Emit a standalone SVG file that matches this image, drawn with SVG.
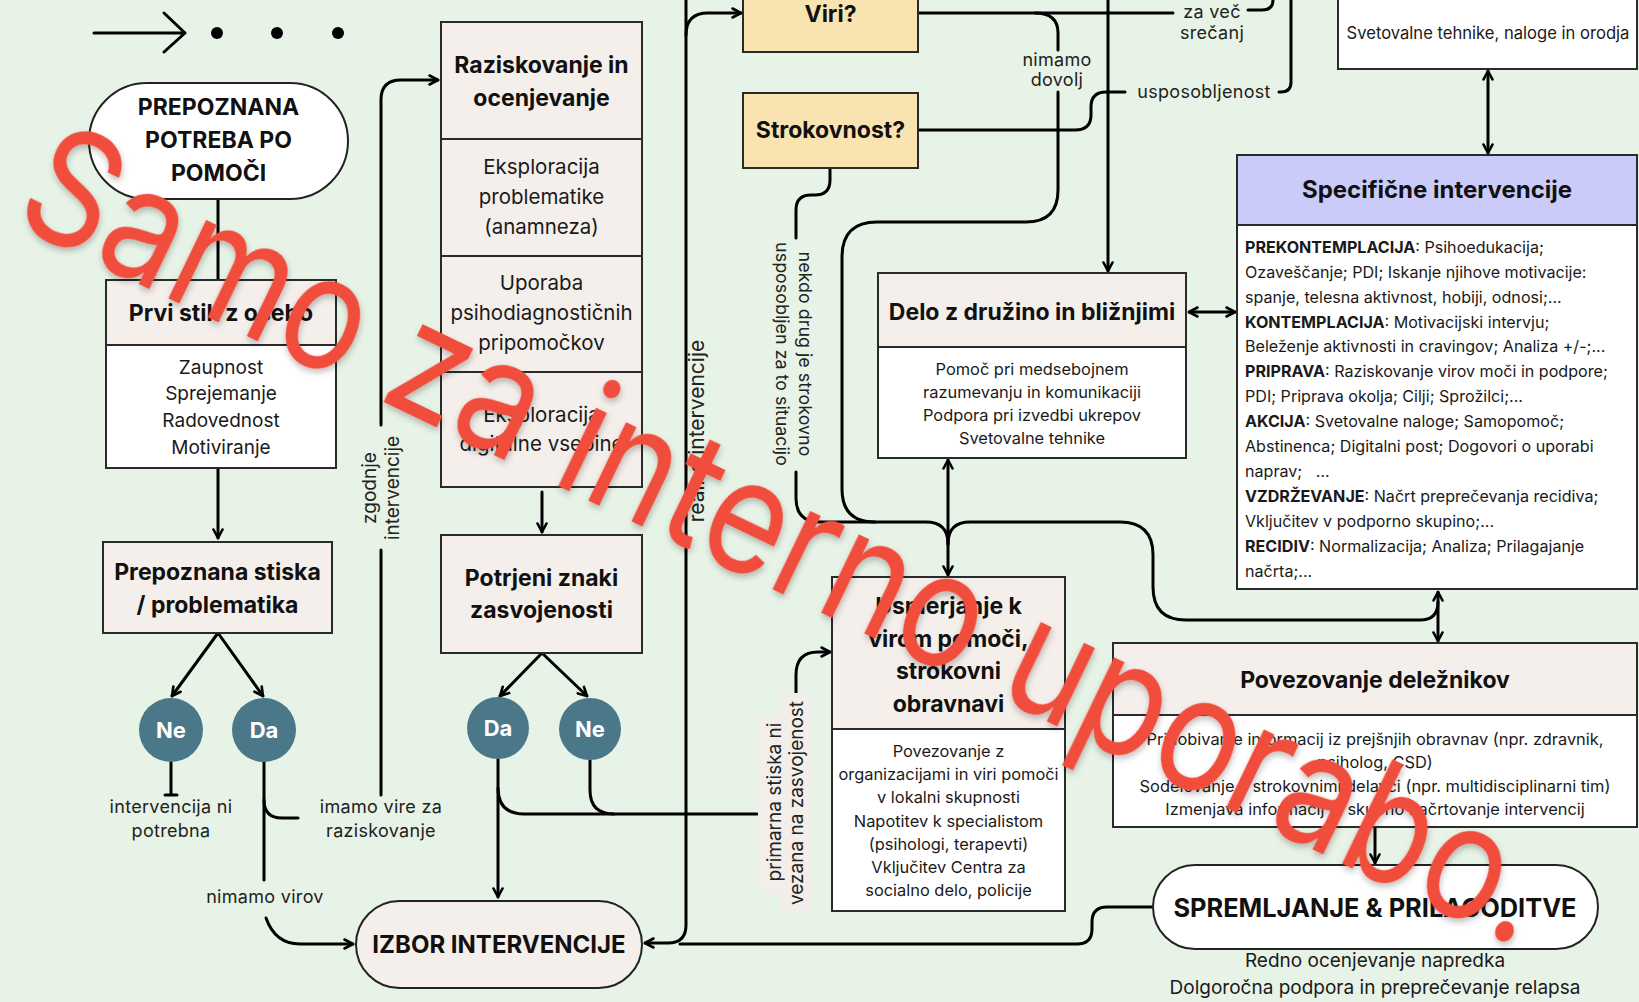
<svg xmlns="http://www.w3.org/2000/svg" width="1639" height="1002" viewBox="0 0 1639 1002">
<style>
.bg{fill:#E8F3E7}
.box{fill:#F4EFEB;stroke:#2a2a2a;stroke-width:2}
.wbox{fill:#FFFFFF;stroke:#2a2a2a;stroke-width:2}
.ybox{fill:#F9E4B1;stroke:#2a2a2a;stroke-width:2}
.pbox{fill:#CBCBFA;stroke:#2a2a2a;stroke-width:2}
.circ{fill:#4B7888}
.hb{font-family:Inter,"Liberation Sans",sans-serif;font-weight:700;font-size:23px;fill:#111;text-anchor:middle}
.ct{font-family:Inter,"Liberation Sans",sans-serif;font-weight:700;font-size:22px;fill:#fff;text-anchor:middle}
.bd{font-family:Inter,"Liberation Sans",sans-serif;font-size:16.4px;fill:#1a1a1a;text-anchor:middle}
.sec{font-family:Inter,"Liberation Sans",sans-serif;font-size:20.5px;fill:#1a1a1a;text-anchor:middle}
.sp{font-family:Inter,"Liberation Sans",sans-serif;font-size:16.1px;fill:#1a1a1a}
.lb{font-family:Inter,"Liberation Sans",sans-serif;font-size:18px;fill:#222;text-anchor:middle;letter-spacing:0.3px}
.rl{font-family:Inter,"Liberation Sans",sans-serif;font-size:19px;fill:#222;text-anchor:middle}
.ln{fill:none;stroke:#000;stroke-width:3;stroke-linecap:round;stroke-linejoin:round}
.a{marker-end:url(#ah)}
.aa{marker-end:url(#ah);marker-start:url(#ah)}
.wm{font-family:Inter,"Open Sans",sans-serif;font-size:160px;fill:#F04D3D}
</style>
<defs>
<marker id="ah" viewBox="0 0 12 12" refX="10.5" refY="6" markerWidth="12" markerHeight="12" markerUnits="userSpaceOnUse" orient="auto-start-reverse">
<path d="M2,1.5 L10.5,6 L2,10.5" fill="none" stroke="#000" stroke-width="2.6" stroke-linecap="round" stroke-linejoin="round"/>
</marker>
<filter id="sh" x="-10%" y="-10%" width="120%" height="120%">
<feDropShadow dx="2" dy="3" stdDeviation="3" flood-color="#000" flood-opacity="0.25"/>
</filter>
</defs>
<rect class="bg" x="0" y="0" width="1639" height="1002"/>

<g id="legend">
<path class="ln" d="M94,33 H185 M164,13 L185,33 L164,52"/>
<circle cx="217" cy="33" r="6"/>
<circle cx="277" cy="33" r="6"/>
<circle cx="338" cy="33" r="6"/>
</g>

<g id="connectors">
<path class="ln" d="M218,199 V280"/>
<path class="ln a" d="M218,468 V538"/>
<path class="ln a" d="M218,633 L172,696"/>
<path class="ln a" d="M218,633 L263,696"/>
<path class="ln" d="M171,762 V795 M165,795 H177"/>
<path class="ln" d="M264,762 V880"/>
<path class="ln" d="M264,800 Q264,818 282,818 H298"/>
<path class="ln" d="M381,795 V550"/>
<path class="ln a" d="M381,425 V100 Q381,80 401,80 H438"/>
<path class="ln a" d="M266,918 C272,935 283,944 300,944 H353"/>
<path class="ln a" d="M542,492 V532"/>
<path class="ln a" d="M542,653 L500,696"/>
<path class="ln a" d="M542,653 L587,696"/>
<path class="ln a" d="M498,758 V897"/>
<path class="ln" d="M498,788 Q498,814 524,814 H757"/>
<path class="ln" d="M590,760 V790 Q590,814 614,814"/>
<path class="ln a" d="M796,693 V675 Q796,652 818,652 H830"/>
<path class="ln a" d="M686,-5 V925 Q686,943 668,943 H645"/>
<path class="ln a" d="M686,35 Q686,13 708,13 H741"/>
<path class="ln" d="M1153,907 H1107 Q1092,907 1092,922 V929 Q1092,944 1077,944 H680"/>
<path class="ln" d="M830,168 V180 Q830,195 815,195 H811 Q796,195 796,210 V238"/>
<path class="ln" d="M796,472 V498 Q796,522 820,522 H926 Q948,522 948,544"/>
<path class="ln" d="M1035,13 Q1058,13 1058,33 V50"/>
<path class="ln" d="M1058,92 V190 Q1058,222 1026,222 H877 Q842,222 842,257 V489 Q842,522 875,522"/>
<path class="ln a" d="M1108,-5 V271"/>
<path class="ln" d="M918,13 H1173"/>
<path class="ln" d="M1248,10 H1262 Q1273,10 1273,0 V-5"/>
<path class="ln" d="M918,130 H1075 Q1091,130 1091,115 V107 Q1091,92 1106,92 H1125"/>
<path class="ln" d="M1279,92 H1281 Q1291,92 1291,82 V-5"/>
<path class="ln aa" d="M1488,71 V153"/>
<path class="ln aa" d="M1189,312 H1235"/>
<path class="ln aa" d="M948,460 V575"/>
<path class="ln" d="M948,544 Q948,522 970,522 H1120 Q1153,522 1153,555 V587 Q1153,620 1186,620 H1420 Q1438,620 1438,602"/>
<path class="ln aa" d="M1438,592 V641"/>
<path class="ln a" d="M1375,827 V863"/>
</g>

<g id="n_start">
<rect x="89" y="83" width="259" height="116" rx="58" fill="#fff" stroke="#222" stroke-width="2"/>
<text class="hb" x="218.5" y="115">PREPOZNANA</text>
<text class="hb" x="218.5" y="148">POTREBA PO</text>
<text class="hb" x="218.5" y="181">POMOČI</text>
</g>

<g id="n_prvi_stik">
<rect class="box" x="106" y="280" width="230" height="65"/>
<rect class="wbox" x="106" y="345" width="230" height="123"/>
<text class="hb" x="221" y="321">Prvi stik z osebo</text>
<text class="sec" style="font-size:19px" x="221" y="374">Zaupnost</text>
<text class="sec" style="font-size:19px" x="221" y="400">Sprejemanje</text>
<text class="sec" style="font-size:19px" x="221" y="427">Radovednost</text>
<text class="sec" style="font-size:19px" x="221" y="454">Motiviranje</text>
</g>

<g id="n_stiska">
<rect class="box" x="103" y="542" width="229" height="91"/>
<text class="hb" x="217.5" y="580">Prepoznana stiska</text>
<text class="hb" x="217.5" y="613">/ problematika</text>
</g>

<g id="n_ne1">
<circle class="circ" cx="171" cy="730" r="32"/>
<text class="ct" x="171" y="738">Ne</text>
</g>
<g id="n_da1">
<circle class="circ" cx="264" cy="730" r="32"/>
<text class="ct" x="264" y="738">Da</text>
</g>

<g id="n_raziskovanje">
<rect class="box" x="441" y="22" width="201" height="117"/>
<rect class="box" x="441" y="139" width="201" height="117"/>
<rect class="box" x="441" y="256" width="201" height="116"/>
<rect class="box" x="441" y="372" width="201" height="115"/>
<text class="hb" x="541.5" y="73">Raziskovanje in</text>
<text class="hb" x="541.5" y="106">ocenjevanje</text>
<text class="sec" x="541.5" y="174">Eksploracija</text>
<text class="sec" x="541.5" y="204">problematike</text>
<text class="sec" x="541.5" y="234">(anamneza)</text>
<text class="sec" x="541.5" y="290">Uporaba</text>
<text class="sec" x="541.5" y="320">psihodiagnostičnih</text>
<text class="sec" x="541.5" y="350">pripomočkov</text>
<text class="sec" x="541.5" y="422">Eksploracija</text>
<text class="sec" x="541.5" y="451">digitalne vsebine</text>
</g>

<g id="n_potrjeni">
<rect class="box" x="441" y="535" width="201" height="118"/>
<text class="hb" x="541.5" y="586">Potrjeni znaki</text>
<text class="hb" x="541.5" y="618">zasvojenosti</text>
</g>

<g id="n_da2">
<circle class="circ" cx="498" cy="728" r="31"/>
<text class="ct" x="498" y="736">Da</text>
</g>
<g id="n_ne2">
<circle class="circ" cx="590" cy="729" r="31"/>
<text class="ct" x="590" y="737">Ne</text>
</g>

<g id="n_izbor">
<rect x="356" y="901" width="286" height="87" rx="43.5" fill="#F4EFEB" stroke="#222" stroke-width="2"/>
<text class="hb" style="font-size:24px" x="499" y="953">IZBOR INTERVENCIJE</text>
</g>

<g id="n_viri">
<rect class="ybox" x="743" y="-5" width="175" height="57"/>
<text class="hb" x="830.5" y="22">Viri?</text>
</g>

<g id="n_strokovnost">
<rect class="ybox" x="743" y="93" width="175" height="75"/>
<text class="hb" x="830.5" y="138">Strokovnost?</text>
</g>

<g id="n_delo">
<rect class="box" x="878" y="273" width="308" height="74"/>
<rect class="wbox" x="878" y="347" width="308" height="111"/>
<text class="hb" x="1032" y="320">Delo z družino in bližnjimi</text>
<text class="bd" x="1032" y="375">Pomoč pri medsebojnem</text>
<text class="bd" x="1032" y="398">razumevanju in komunikaciji</text>
<text class="bd" x="1032" y="421">Podpora pri izvedbi ukrepov</text>
<text class="bd" x="1032" y="444">Svetovalne tehnike</text>
</g>

<g id="n_usmerjanje">
<rect class="box" x="832" y="577" width="233" height="152"/>
<rect class="wbox" x="832" y="729" width="233" height="182"/>
<text class="hb" x="948.5" y="614">Usmerjanje k</text>
<text class="hb" x="948.5" y="647">virom pomoči,</text>
<text class="hb" x="948.5" y="679">strokovni</text>
<text class="hb" x="948.5" y="712">obravnavi</text>
<text class="bd" x="948.5" y="757">Povezovanje z</text>
<text class="bd" x="948.5" y="780">organizacijami in viri pomoči</text>
<text class="bd" x="948.5" y="803">v lokalni skupnosti</text>
<text class="bd" x="948.5" y="827">Napotitev k specialistom</text>
<text class="bd" x="948.5" y="850">(psihologi, terapevti)</text>
<text class="bd" x="948.5" y="873">Vključitev Centra za</text>
<text class="bd" x="948.5" y="896">socialno delo, policije</text>
</g>

<g id="n_orodja">
<rect class="wbox" x="1338" y="-5" width="299" height="74"/>
<text class="bd" style="font-size:16.6px" x="1488" y="39">Svetovalne tehnike, naloge in orodja</text>
</g>

<g id="n_specificne">
<rect class="pbox" x="1237" y="155" width="400" height="70"/>
<rect class="wbox" x="1237" y="225" width="400" height="364"/>
<text class="hb" style="font-size:24px" x="1437" y="198">Specifične intervencije</text>
<text class="sp" x="1245" y="253"><tspan font-weight="700">PREKONTEMPLACIJA</tspan>: Psihoedukacija;</text>
<text class="sp" x="1245" y="278">Ozaveščanje; PDI; Iskanje njihove motivacije:</text>
<text class="sp" x="1245" y="303">spanje, telesna aktivnost, hobiji, odnosi;...</text>
<text class="sp" x="1245" y="328"><tspan font-weight="700">KONTEMPLACIJA</tspan>: Motivacijski intervju;</text>
<text class="sp" x="1245" y="352">Beleženje aktivnosti in cravingov; Analiza +/-;...</text>
<text class="sp" x="1245" y="377"><tspan font-weight="700">PRIPRAVA</tspan>: Raziskovanje virov moči in podpore;</text>
<text class="sp" x="1245" y="402">PDI; Priprava okolja; Cilji; Sprožilci;...</text>
<text class="sp" x="1245" y="427"><tspan font-weight="700">AKCIJA</tspan>: Svetovalne naloge; Samopomoč;</text>
<text class="sp" x="1245" y="452">Abstinenca; Digitalni post; Dogovori o uporabi</text>
<text class="sp" x="1245" y="477" xml:space="preserve">naprav;   ...</text>
<text class="sp" x="1245" y="502"><tspan font-weight="700">VZDRŽEVANJE</tspan>: Načrt preprečevanja recidiva;</text>
<text class="sp" x="1245" y="527">Vključitev v podporno skupino;...</text>
<text class="sp" x="1245" y="552"><tspan font-weight="700">RECIDIV</tspan>: Normalizacija; Analiza; Prilagajanje</text>
<text class="sp" x="1245" y="577">načrta;...</text>
</g>

<g id="n_povezovanje">
<rect class="box" x="1113" y="643" width="524" height="72"/>
<rect class="wbox" x="1113" y="715" width="524" height="112"/>
<text class="hb" x="1375" y="688">Povezovanje deležnikov</text>
<text class="bd" x="1375" y="745">Pridobivanje informacij iz prejšnjih obravnav (npr. zdravnik,</text>
<text class="bd" x="1375" y="768">psiholog, CSD)</text>
<text class="bd" x="1375" y="792">Sodelovanje s strokovnimi delavci (npr. multidisciplinarni tim)</text>
<text class="bd" x="1375" y="815">Izmenjava informacij in skupno načrtovanje intervencij</text>
</g>

<g id="n_spremljanje">
<rect x="1153" y="865" width="445" height="84" rx="42" fill="#fff" stroke="#222" stroke-width="2"/>
<text class="hb" style="font-size:25.4px" x="1375" y="917">SPREMLJANJE &amp; PRILAGODITVE</text>
<text class="sec" style="font-size:19px" x="1375" y="967">Redno ocenjevanje napredka</text>
<text class="sec" style="font-size:19px" x="1375" y="994">Dolgoročna podpora in preprečevanje relapsa</text>
</g>

<g id="labels">
<text class="lb" x="1212" y="18">za več</text>
<text class="lb" x="1212" y="39">srečanj</text>
<text class="lb" x="1057" y="66">nimamo</text>
<text class="lb" x="1057" y="86">dovolj</text>
<text class="lb" x="1204" y="98">usposobljenost</text>
<text class="lb" x="171" y="813">intervencija ni</text>
<text class="lb" x="171" y="837">potrebna</text>
<text class="lb" x="381" y="813">imamo vire za</text>
<text class="lb" x="381" y="837">raziskovanje</text>
<text class="lb" x="265" y="903">nimamo virov</text>
<text class="rl" transform="translate(370,488) rotate(-90)" x="0" y="6">zgodnje</text>
<text class="rl" transform="translate(393,488) rotate(-90)" x="0" y="6">intervencije</text>
<text class="rl" style="font-size:21px" transform="translate(698,431) rotate(-90)" x="0" y="6">realne intervencije</text>
<text class="rl" style="font-size:17.9px" transform="translate(805,354) rotate(90)" x="0" y="6">nekdo drug je strokovno</text>
<text class="rl" style="font-size:17.9px" transform="translate(782,354) rotate(90)" x="0" y="6">usposobljen za to situacijo</text>
<rect x="758" y="714" width="32" height="179" rx="7" fill="#F2EEEA"/>
<rect x="779" y="693" width="33" height="219" rx="7" fill="#F2EEEA"/>
<text class="rl" transform="translate(775,802) rotate(-90)" x="0" y="6">primarna stiska ni</text>
<text class="rl" transform="translate(797,803) rotate(-90)" x="0" y="6">vezana na zasvojenost</text>
</g>

<g id="watermark">
<text class="wm" filter="url(#sh)" transform="translate(10,222) rotate(25.72)" textLength="1674" lengthAdjust="spacingAndGlyphs">Samo za interno uporabo.</text>
</g>
</svg>
